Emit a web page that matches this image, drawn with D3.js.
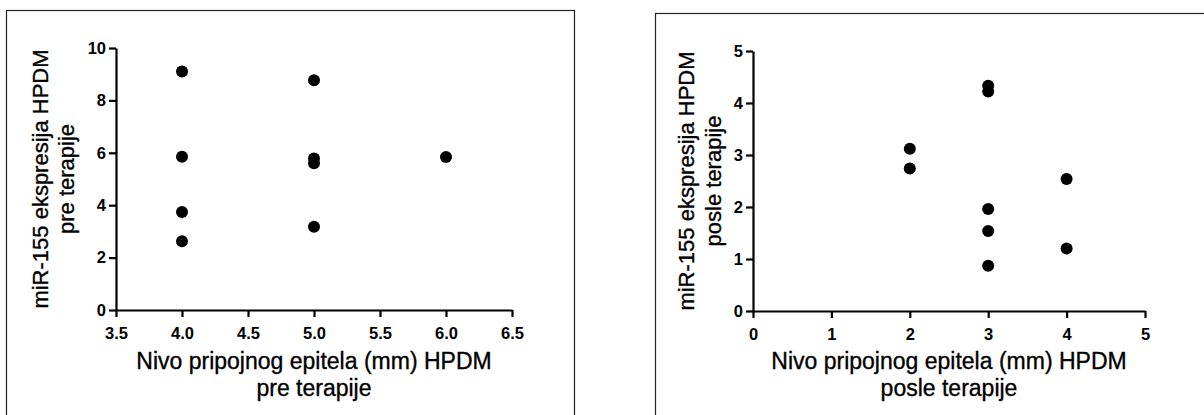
<!DOCTYPE html>
<html>
<head>
<meta charset="utf-8">
<script src="https://cdn.jsdelivr.net/npm/d3@7"></script>
<style>
  html, body { margin: 0; padding: 0; background: #fff; }
  svg { display: block; }
  .tick text { font-family: "Liberation Sans", Arial, sans-serif; font-weight: bold; font-size: 16.5px; fill: #000; }
  .title { font-family: "Liberation Sans", Arial, sans-serif; fill: #000; stroke: #000; stroke-width: 0.35px; }
  .xt { font-size: 23px; }
  .yt { font-size: 22px; }
</style>
</head>
<body>
<svg id="chart" width="1204" height="415"></svg>
<script>
// Before therapy: attachment level (mm) vs miR-155 expression
const preX = [4, 4, 4, 4, 5, 5, 5, 5, 6];
const preY = [9.10, 5.85, 3.74, 2.62, 8.77, 5.78, 5.60, 3.18, 5.84];
const preXTicks = [3.5, 4.0, 4.5, 5.0, 5.5, 6.0, 6.5];
const preYTicks = [0, 2, 4, 6, 8, 10];

// After therapy
const postX = [2, 2, 3, 3, 3, 3, 3, 4, 4];
const postY = [3.12, 2.74, 4.33, 4.22, 1.96, 1.54, 0.87, 2.54, 1.20];
const postXTicks = [0, 1, 2, 3, 4, 5];
const postYTicks = [0, 1, 2, 3, 4, 5];

const yTitle = "miR-155 ekspresija HPDM";
const xTitle = "Nivo pripojnog epitela (mm) HPDM";
const preSub = "pre terapije";
const postSub = "posle terapije";

const svg = d3.select("#chart");

function panel(cfg) {
  const g = svg.append("g");

  // panel frame
  g.append("rect")
    .attr("x", cfg.frame[0]).attr("y", cfg.frame[1])
    .attr("width", cfg.frame[2]).attr("height", cfg.frame[3])
    .attr("fill", "none").attr("stroke", "#222").attr("stroke-width", 1.2);

  const x = d3.scaleLinear().domain(cfg.xDomain).range(cfg.xRange);
  const y = d3.scaleLinear().domain(cfg.yDomain).range(cfg.yRange);

  const xAxis = g.append("g")
    .attr("transform", `translate(0,${cfg.yRange[0]})`)
    .call(d3.axisBottom(x).tickValues(cfg.xTicks).tickFormat(cfg.xFmt)
      .tickSize(7).tickSizeOuter(0).tickPadding(10));
  const yAxis = g.append("g")
    .attr("transform", `translate(${cfg.xRange[0]},0)`)
    .call(d3.axisLeft(y).tickValues(cfg.yTicks).tickFormat(d3.format("d"))
      .tickSize(7).tickSizeOuter(0).tickPadding(3));

  [xAxis, yAxis].forEach(a => {
    a.select(".domain").attr("stroke", "#000").attr("stroke-width", 2.2);
    a.selectAll(".tick line").attr("stroke", "#000").attr("stroke-width", 2.2);
  });

  // points
  g.append("g").selectAll("circle")
    .data(cfg.xs.map((v, i) => [v, cfg.ys[i]]))
    .join("circle")
    .attr("cx", d => x(d[0]))
    .attr("cy", d => y(d[1]))
    .attr("r", 6)
    .attr("fill", "#000");

  // x title (two lines)
  const xc = (cfg.xRange[0] + cfg.xRange[1]) / 2;
  g.append("text").attr("class", "title xt").attr("text-anchor", "middle")
    .attr("x", xc).attr("y", 369).text(xTitle);
  g.append("text").attr("class", "title xt").attr("text-anchor", "middle")
    .attr("x", xc).attr("y", 396).text(cfg.sub);

  // y title (two lines, rotated)
  const yc = (cfg.yRange[0] + cfg.yRange[1]) / 2;
  g.append("text").attr("class", "title yt").attr("text-anchor", "middle")
    .attr("transform", `translate(${cfg.yTitleX[0]},${yc}) rotate(-90)`).text(yTitle);
  g.append("text").attr("class", "title yt").attr("text-anchor", "middle")
    .attr("transform", `translate(${cfg.yTitleX[1]},${yc}) rotate(-90)`).text(cfg.sub);
}

panel({
  frame: [6.5, 10.5, 568, 420],
  xDomain: [3.5, 6.5], xRange: [116, 512],
  yDomain: [0, 10], yRange: [310, 48],
  xTicks: preXTicks, yTicks: preYTicks, xFmt: d3.format(".1f"),
  xs: preX, ys: preY, sub: preSub,
  yTitleX: [48, 74]
});

panel({
  frame: [655.5, 13.5, 600, 420],
  xDomain: [0, 5], xRange: [753, 1145],
  yDomain: [0, 5], yRange: [311, 51],
  xTicks: postXTicks, yTicks: postYTicks, xFmt: d3.format("d"),
  xs: postX, ys: postY, sub: postSub,
  yTitleX: [694, 721]
});
</script>
</body>
</html>
